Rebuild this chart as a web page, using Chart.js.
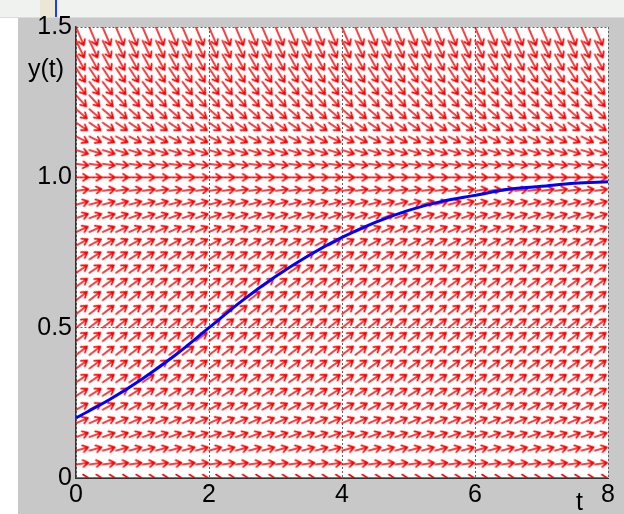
<!DOCTYPE html>
<html>
<head>
<meta charset="utf-8">
<script src="https://cdn.jsdelivr.net/npm/chart.js@4.4.1/dist/chart.umd.min.js"></script>
<style>
  body { margin: 0; width: 624px; height: 514px; position: relative; overflow: hidden; background: #fff; font-family: "Liberation Sans", Arial, sans-serif; }
  .topbar { position: absolute; left: 0; top: 0; width: 624px; height: 17px; background: #eff2ee; border-bottom: 1px solid #d9ddd7; }
  .tab { position: absolute; left: 40px; top: 0; width: 15px; height: 17px; background: #ebe6d6; }
  .caret { position: absolute; left: 55px; top: 0; width: 2px; height: 17px; background: #1a3cff; }
  .panel { position: absolute; left: 18px; top: 18px; right: 0; bottom: 0; background: #c8c8c8; }
  #c { position: absolute; left: 0; top: 0; }
  .lab { position: absolute; font-size: 25px; line-height: 25px; color: #000; }
</style>
</head>
<body>
<div class="topbar"><div class="tab"></div><div class="caret"></div></div>
<div class="panel"></div>
<canvas id="c" width="624" height="514"></canvas>
<div class="lab" style="left:28px; top:56px;">y(t)</div>
<div class="lab" style="left:576px; top:489px;">t</div>
<script>
// axis ticks
const yTicks = [0, 0.5, 1, 1.5];
const yTickLabels = ['0', '0.5', '1.0', '1.5'];
const xTicks = [0, 2, 4, 6, 8];
const xTickLabels = ['0', '2', '4', '6', '8'];

// solution curve
const solT = [0, 0.5, 1, 1.5, 2, 2.5, 3, 3.5, 4, 4.5, 5, 5.5, 6, 6.5, 7, 7.5, 8];
const solY = [0.2, 0.26, 0.33, 0.41, 0.5, 0.59, 0.67, 0.74, 0.8, 0.85, 0.89, 0.92, 0.94, 0.96, 0.97, 0.98, 0.985];

// direction field: columns, rows and the slope dy/dt seen on each row
const fieldT = [0, 0.2, 0.4, 0.6, 0.8, 1, 1.2, 1.4, 1.6, 1.8, 2, 2.2, 2.4, 2.6, 2.8, 3, 3.2, 3.4, 3.6, 3.8,
                4, 4.2, 4.4, 4.6, 4.8, 5, 5.2, 5.4, 5.6, 5.8, 6, 6.2, 6.4, 6.6, 6.8, 7, 7.2, 7.4, 7.6, 7.8];
const fieldY = [0, 0.045, 0.091, 0.136, 0.182, 0.227, 0.273, 0.318, 0.364, 0.409, 0.455, 0.5, 0.545, 0.591,
                0.636, 0.682, 0.727, 0.773, 0.818, 0.864, 0.909, 0.955, 1, 1.045, 1.091, 1.136, 1.182,
                1.227, 1.273, 1.318, 1.364, 1.409, 1.455, 1.5];
const rowSlope = [0, 0.03, 0.06, 0.08, 0.10, 0.12, 0.14, 0.15, 0.16, 0.17, 0.17, 0.17, 0.17, 0.17,
                  0.16, 0.15, 0.14, 0.12, 0.10, 0.08, 0.06, 0.03, 0, -0.03, -0.07, -0.11, -0.15,
                  -0.19, -0.24, -0.29, -0.34, -0.40, -0.46, -0.52];

const fieldPoints = [];
fieldY.forEach((y, row) => {
    fieldT.forEach(t => fieldPoints.push({ x: t, y: y, row: row }));
});

// pixel aspect of the plot, taken from the scales once they are laid out
function pixelRatio(chart) {
    const xs = chart.scales.x;
    const ys = chart.scales.y;
    if (!xs || !ys) return null;
    const kx = xs.getPixelForValue(1) - xs.getPixelForValue(0);
    const ky = ys.getPixelForValue(0) - ys.getPixelForValue(1);
    if (!isFinite(kx) || !isFinite(ky) || kx <= 0 || ky <= 0) return null;
    return ky / kx;
}

function arrowAngle(chart, row) {
    const r = pixelRatio(chart);
    if (r === null) return 0;
    return Math.atan(rowSlope[row] * r);
}

const arrowCache = {};
const blank = document.createElement('canvas');
blank.width = 2;
blank.height = 2;

function arrowImage(chart, row) {
    if (arrowCache[row]) return arrowCache[row];
    if (pixelRatio(chart) === null) return blank;
    const a = arrowAngle(chart, row);
    const len = 12.5 / Math.sqrt(Math.cos(a));
    const w = Math.ceil(len) * 2 + 4;
    const h = 14;
    const c = document.createElement('canvas');
    c.width = w;
    c.height = h;
    const g = c.getContext('2d');
    const cx = w / 2, cy = h / 2;
    g.strokeStyle = '#ff0000';
    g.lineWidth = 1.6;
    g.lineCap = 'round';
    g.lineJoin = 'round';
    g.beginPath();
    g.moveTo(cx, cy);
    g.lineTo(cx + len, cy);
    g.moveTo(cx + len - 5.5, cy - 3.5);
    g.lineTo(cx + len, cy);
    g.lineTo(cx + len - 5.5, cy + 3.5);
    g.stroke();
    arrowCache[row] = c;
    return c;
}

const plotBg = {
    id: 'plotBg',
    beforeDraw(chart) {
        const { ctx, chartArea: a } = chart;
        ctx.save();
        ctx.fillStyle = '#ffffff';
        ctx.fillRect(a.left, a.top, a.right - a.left, a.bottom - a.top);
        ctx.restore();
    }
};

const tickFont = { family: '"Liberation Sans", Arial, sans-serif', size: 25 };

new Chart(document.getElementById('c'), {
    type: 'scatter',
    data: {
        datasets: [
            {
                type: 'line',
                data: solT.map((t, i) => ({ x: t, y: solY[i] })),
                borderColor: '#0000ff',
                borderWidth: 3,
                pointRadius: 0,
                cubicInterpolationMode: 'monotone',
                fill: false
            },
            {
                type: 'scatter',
                data: fieldPoints,
                pointStyle: c => c.raw ? arrowImage(c.chart, c.raw.row) : 'circle',
                rotation: c => c.raw ? -arrowAngle(c.chart, c.raw.row) * 180 / Math.PI : 0,
                pointRadius: 6,
                showLine: false,
                clip: 0
            }
        ]
    },
    options: {
        responsive: false,
        animation: false,
        events: [],
        layout: { padding: { top: 27, right: 16, left: 0, bottom: 0 } },
        plugins: { legend: { display: false }, tooltip: { enabled: false } },
        scales: {
            x: {
                type: 'linear', min: 0, max: 8,
                afterFit: s => { s.height = 36; },
                afterBuildTicks: s => { s.ticks = xTicks.map(v => ({ value: v })); },
                ticks: { callback: (v, i) => xTickLabels[i], font: tickFont, color: '#000', padding: 2, maxRotation: 0, autoSkip: false },
                grid: { color: '#606060', lineWidth: 1, drawTicks: false },
                border: { display: true, color: '#333', width: 1, dash: [2, 2] }
            },
            y: {
                type: 'linear', min: 0, max: 1.5,
                afterFit: s => { s.width = 76; },
                afterBuildTicks: s => { s.ticks = yTicks.map(v => ({ value: v })); },
                ticks: { callback: (v, i) => yTickLabels[i], font: tickFont, color: '#000', padding: 4, autoSkip: false },
                grid: { color: '#606060', lineWidth: 1, drawTicks: false },
                border: { display: true, color: '#333', width: 1.5, dash: [2, 2] }
            }
        }
    },
    plugins: [plotBg]
});
</script>
</body>
</html>
